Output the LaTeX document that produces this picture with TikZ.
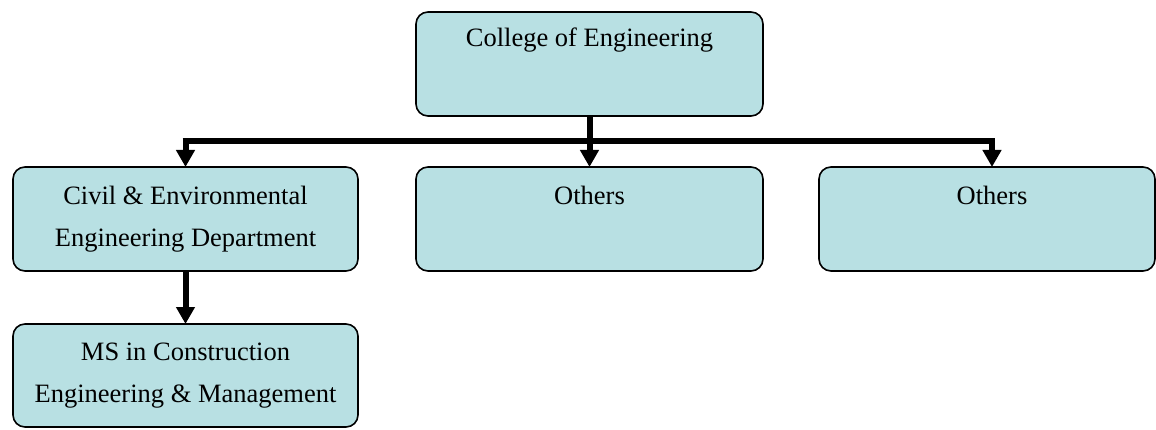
\documentclass[tikz,border=0pt]{standalone}
\usepackage{fontspec}
\setmainfont{Liberation Serif}
\usetikzlibrary{arrows.meta}
\definecolor{boxfill}{RGB}{184,224,227}
\tikzset{
  box/.style={draw=black, line width=1.6pt, fill=boxfill, rounded corners=12pt,
    rectangle, inner sep=0pt, outer sep=0pt, minimum height=104pt},
  lbl/.style={inner sep=0pt, anchor=base, font=\fontsize{26.5}{42}\selectfont},
  conn/.style={line width=6pt},
  arr/.style={line width=6pt, -{Triangle[width=18pt,length=17pt]}}
}
\begin{document}
\begin{tikzpicture}[x=1pt,y=-1pt]
\useasboundingbox (0,0) rectangle (1156,430);
% boxes
\node[box, minimum width=347pt] (top) at (589.5,64) {};
\node[box, minimum width=345pt] (civ) at (185.5,219) {};
\node[box, minimum width=347pt] (oth1) at (589.5,219) {};
\node[box, minimum width=336pt] (oth2) at (987,219) {};
\node[box, minimum width=345pt, minimum height=103pt] (ms) at (185.5,375.5) {};
% labels
\node[lbl] (tTop) at (589.5,47) {College of Engineering};
\node[lbl] (tCiv1) at (185.5,205) {Civil \& Environmental};
\node[lbl] (tCiv2) at (185.5,247) {Engineering Department};
\node[lbl] (tOth1) at (589.5,205) {Others};
\node[lbl] (tOth2) at (992,205) {Others};
\node[lbl] (tMs1) at (185.5,360) {MS in Construction};
\node[lbl] (tMs2) at (185.5,402) {Engineering \& Management};
% connectors
\coordinate (bar) at (0,141.5);
\coordinate (barT) at (0,138.5);
\coordinate (oth2in) at ([xshift=5pt]oth2.north);
\draw[conn] ([xshift=-3pt]civ.north |- bar) -- ([xshift=3pt]oth2in |- bar);
\draw[arr] (top.south) -- (oth1.north);
\draw[arr] (civ.north |- barT) -- (civ.north);
\draw[arr] (oth2in |- barT) -- (oth2in);
\draw[arr] (civ.south) -- (ms.north);
\end{tikzpicture}
\end{document}
